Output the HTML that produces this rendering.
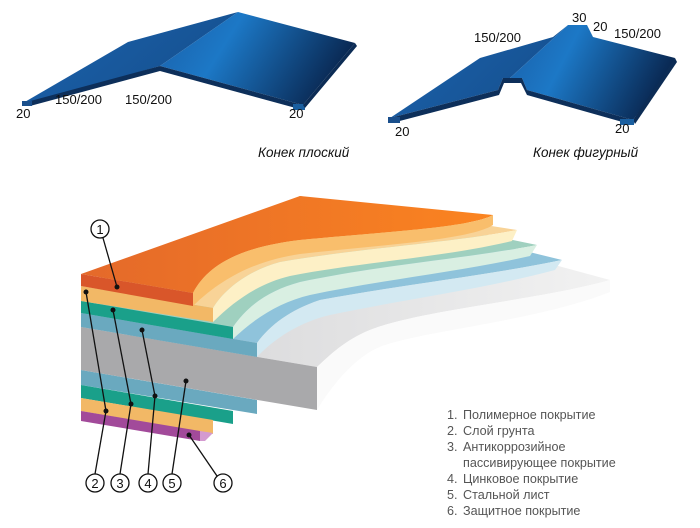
<!DOCTYPE html>
<html><head><meta charset="utf-8"><style>
html,body{margin:0;padding:0;background:#fff;}
svg{display:block;font-family:"Liberation Sans","DejaVu Sans",sans-serif;}
</style></head><body>
<svg width="700" height="528" viewBox="0 0 700 528" xmlns="http://www.w3.org/2000/svg">
<defs>
<linearGradient id="bl" x1="0" y1="0" x2="1" y2="0.3">
<stop offset="0" stop-color="#1a5fa8"/><stop offset="0.4" stop-color="#1c78c6"/><stop offset="1" stop-color="#0a2a55"/></linearGradient>
<linearGradient id="bl2" x1="0" y1="0" x2="1" y2="0.5">
<stop offset="0" stop-color="#1c63ae"/><stop offset="1" stop-color="#15508f"/></linearGradient>
<linearGradient id="or" x1="0" y1="0" x2="1" y2="0">
<stop offset="0" stop-color="#e4692a"/><stop offset="1" stop-color="#fb8420"/></linearGradient>
<linearGradient id="gr" x1="0" y1="0" x2="1" y2="0">
<stop offset="0" stop-color="#d2d2d4"/><stop offset="1" stop-color="#f2f2f2"/></linearGradient>
</defs>

<!-- flat ridge -->
<polygon points="23,103 128,42 238,12 160,66 30,103" fill="url(#bl2)"/>
<polygon points="160,66 238,12 355,43 303,105" fill="url(#bl)"/>
<path d="M23,103 L160,66 L303,105 L303,110 L160,71 L30,106 Z" fill="#0d2f5a"/>
<path d="M22,101 L32,101 L32,106 L22,106 Z" fill="#1a4f8c"/>
<path d="M293,104 L305,104 L305,110 L293,110 Z" fill="#1a5fa0"/>
<polygon points="355,43 357,46 305,108 303,105" fill="#0c2c55"/>

<!-- figured ridge -->
<polygon points="390,118 480,58 553,37 568,25 510,78 503,78 498,90" fill="url(#bl2)"/>
<polygon points="510,78 568,25 587,25 593,37 675,58 670,68 633,120 527,90 522,78" fill="url(#bl)"/>
<path d="M390,118 L498,90 L503,78 L522,78 L527,90 L633,120 L633,125 L527,95 L521,83 L504,83 L499,95 L392,123 Z" fill="#0d2f5a"/>
<polygon points="675,58 677,62 635,124 633,120" fill="#0c2c55"/>
<path d="M388,117 L400,117 L400,123 L388,123 Z" fill="#1a4f8c"/>
<path d="M620,119 L634,119 L634,125 L620,125 Z" fill="#1a5fa0"/>

<g font-size="13" fill="#111">
<text x="16" y="118">20</text>
<text x="55" y="104">150/200</text>
<text x="125" y="104">150/200</text>
<text x="289" y="118">20</text>
<text x="395" y="136">20</text>
<text x="474" y="42">150/200</text>
<text x="572" y="22">30</text>
<text x="593" y="31">20</text>
<text x="614" y="38">150/200</text>
<text x="615" y="133">20</text>
<text x="258" y="157" font-style="italic" font-size="13.5">Конек плоский</text>
<text x="533" y="157" font-style="italic" font-size="13.5">Конек фигурный</text>
</g>

<!-- layers: gray top -->
<path d="M300,196 L610,280 C540,300 420,310 370,330 C345,340 330,355 317,367 L81,327 Z" fill="url(#gr)"/>
<path d="M317,367 C330,355 345,340 370,330 C420,310 540,300 610,280 L610,292 C540,320 430,330 385,345 C360,353 335,380 317,410 Z" fill="#fafafa"/>
<!-- blue -->
<path d="M300,196 L562,260 C490,275 400,285 320,300 C290,310 270,325 257,343 L81,313 Z" fill="#8fc3db"/>
<path d="M257,343 C270,325 290,310 320,300 C400,285 490,275 562,260 L555,270 C480,290 400,300 330,315 C300,322 275,338 257,357 Z" fill="#d3e9f2"/>
<!-- teal -->
<path d="M300,196 L537,245 C470,258 380,265 300,282 C270,290 248,305 233,327 L81,301 Z" fill="#9fd0bf"/>
<path d="M233,327 C248,305 270,290 300,282 C380,265 470,258 537,245 L530,256 C460,272 380,280 310,295 C280,302 255,318 233,339 Z" fill="#d9efe2"/>
<!-- peach -->
<path d="M300,196 L517,230 C450,243 360,248 280,262 C250,270 225,288 213,308 L81,286 Z" fill="#f8d397"/>
<path d="M213,308 C225,288 250,270 280,262 C360,248 450,243 517,230 L512,241 C440,258 360,262 290,276 C260,283 235,300 213,322 Z" fill="#fdf0c6"/>
<!-- orange -->
<path d="M300,196 L493,215 C470,228 380,232 300,240 C250,246 210,260 193,293 L81,274 Z" fill="url(#or)"/>
<path d="M193,293 C210,260 250,246 300,240 C380,232 470,228 493,215 L493,225 C470,240 380,245 300,254 C260,260 225,275 193,306 Z" fill="#f9be6c"/>

<!-- front faces -->
<polygon points="81,370 257,400 257,414 81,385" fill="#6aa9bf"/>
<polygon points="81,385 233,411 233,424 81,398" fill="#1aa08a"/>
<polygon points="81,398 213,420 213,434 81,411" fill="#f2b866"/>
<polygon points="81,411 200,431 200,441 81,421" fill="#a24a9a"/>
<polygon points="200,431 213,433 205,441 200,441" fill="#d49ad0"/>
<polygon points="81,327 317,367 317,410 81,370" fill="#a9a9ab"/>
<polygon points="81,313 257,343 257,357 81,327" fill="#6aa9bf"/>
<polygon points="81,301 233,327 233,339 81,313" fill="#1aa08a"/>
<polygon points="81,286 213,308 213,322 81,301" fill="#f2b866"/>
<polygon points="81,274 193,293 193,306 81,286" fill="#d9562a"/>

<!-- leaders -->
<g stroke="#111" stroke-width="1.3" fill="none">
<line x1="103" y1="238" x2="117" y2="287"/>
<line x1="95" y1="474" x2="106" y2="411"/><line x1="106" y1="411" x2="86" y2="292"/>
<line x1="120" y1="474" x2="131" y2="404"/><line x1="131" y1="404" x2="113" y2="310"/>
<line x1="148" y1="474" x2="155" y2="396"/><line x1="155" y1="396" x2="142" y2="330"/>
<line x1="172" y1="474" x2="186" y2="381"/>
<line x1="189" y1="435" x2="217" y2="476"/>
<circle cx="100" cy="229" r="9"/>
<circle cx="95" cy="483" r="9"/><circle cx="120" cy="483" r="9"/><circle cx="148" cy="483" r="9"/><circle cx="172" cy="483" r="9"/><circle cx="223" cy="483" r="9"/>
</g>
<g fill="#111">
<circle cx="117" cy="287" r="2.5"/><circle cx="86" cy="292" r="2.5"/><circle cx="106" cy="411" r="2.5"/>
<circle cx="113" cy="310" r="2.5"/><circle cx="131" cy="404" r="2.5"/><circle cx="142" cy="330" r="2.5"/>
<circle cx="155" cy="396" r="2.5"/><circle cx="186" cy="381" r="2.5"/><circle cx="189" cy="435" r="2.5"/>
</g>
<g font-size="13" fill="#111" text-anchor="middle">
<text x="100" y="234">1</text><text x="95" y="488">2</text><text x="120" y="488">3</text><text x="148" y="488">4</text><text x="172" y="488">5</text><text x="223" y="488">6</text>
</g>

<g font-size="12.6" fill="#555">
<text x="447" y="419">1.</text><text x="463" y="419">Полимерное покрытие</text>
<text x="447" y="435">2.</text><text x="463" y="435">Слой грунта</text>
<text x="447" y="451">3.</text><text x="463" y="451">Антикоррозийное</text>
<text x="463" y="467">пассивирующее покрытие</text>
<text x="447" y="483">4.</text><text x="463" y="483">Цинковое покрытие</text>
<text x="447" y="499">5.</text><text x="463" y="499">Стальной лист</text>
<text x="447" y="515">6.</text><text x="463" y="515">Защитное покрытие</text>
</g>
</svg>
</body></html>
